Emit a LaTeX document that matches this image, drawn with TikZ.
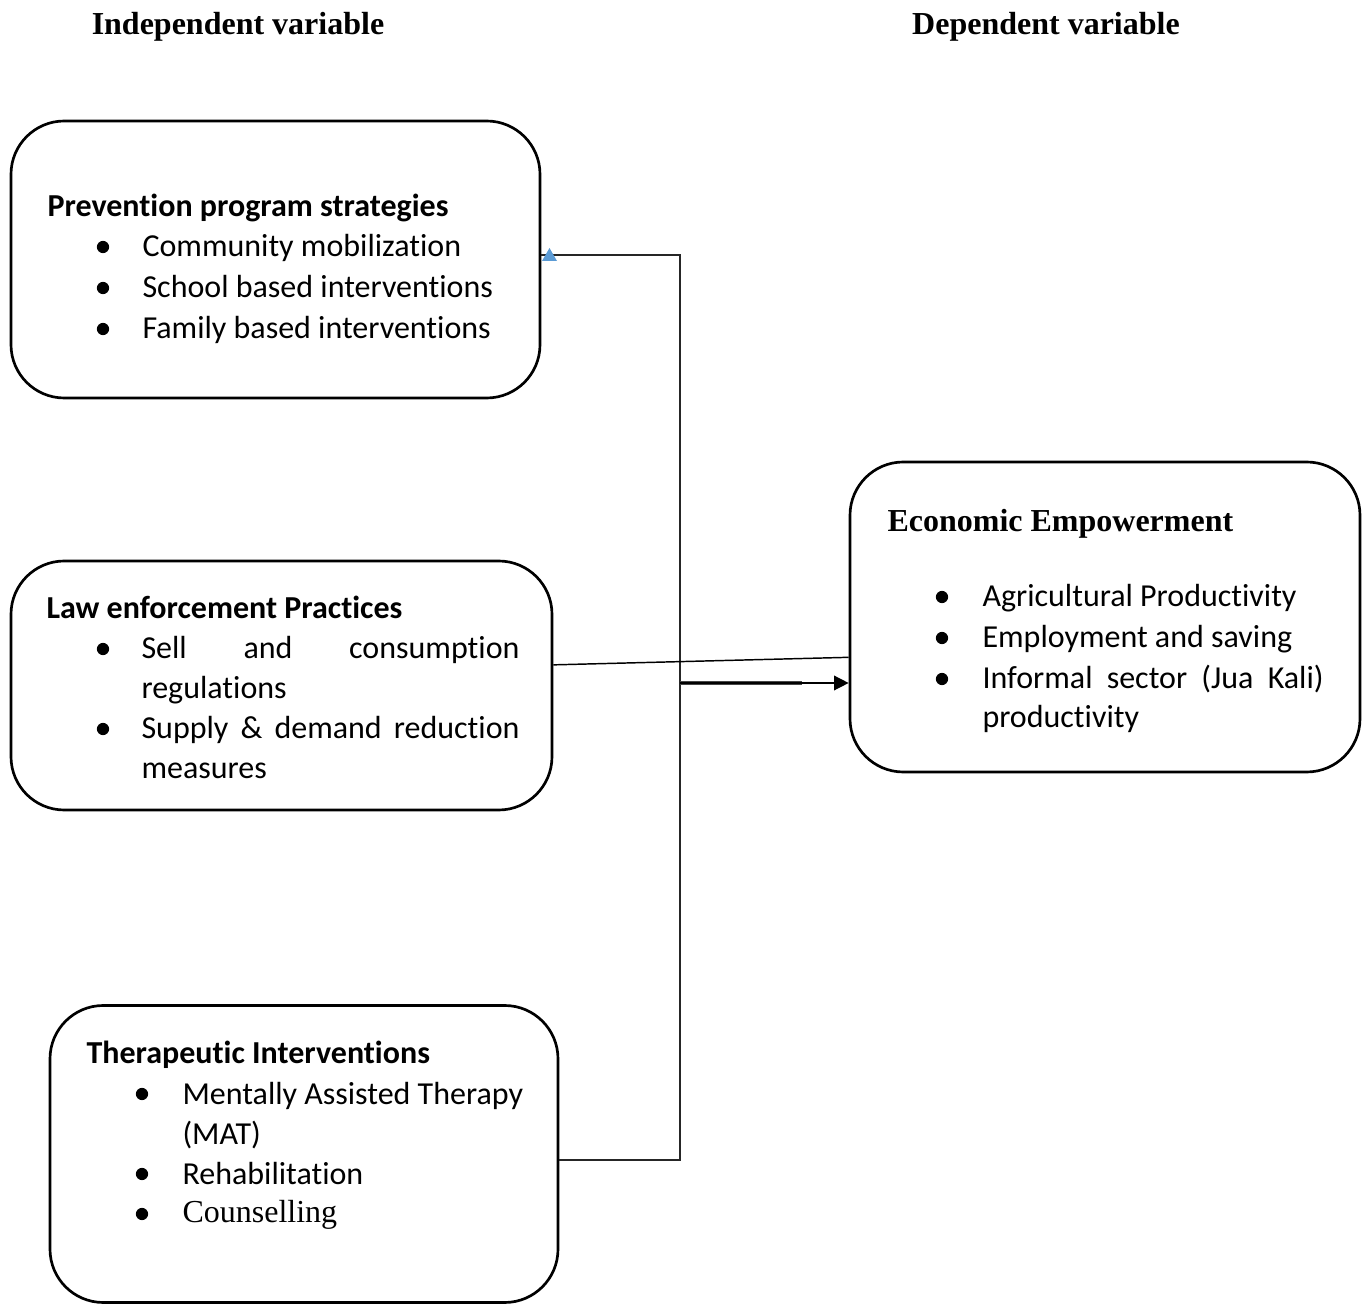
\documentclass[tikz,border=0pt]{standalone}
\usepackage{fontspec}
\setmainfont{Carlito}[Ligatures=NoCommon]
\newfontfamily\tnr{Liberation Serif}
\usetikzlibrary{arrows.meta,calc}
\def\PX{0.375pt}
\tikzset{
  box/.style={draw=black, line width=1pt, rounded corners=20pt, inner sep=0pt},
  txt/.style={inner sep=0pt, anchor=base west, font=\fontsize{12}{15}\selectfont},
  hdr/.style={inner sep=0pt, anchor=base west, font=\fontsize{12}{15}\selectfont\bfseries},
  ttl/.style={inner sep=0pt, anchor=base, font=\fontsize{12}{15}\selectfont\tnr\bfseries},
  conn/.style={draw=black!85, line width=0.55pt},
  bul/.style={fill=black},
}
\begin{document}
\begin{tikzpicture}[x=0.375pt,y=-0.375pt]
\useasboundingbox (0,0) rectangle (1369,1304);
% titles
\node[ttl] (tind) at (238,35) {Independent variable};
\node[ttl] (tdep) at (1046,35) {Dependent variable};
% boxes
\node[box, minimum width=529*\PX, minimum height=277*\PX] (b1) at (275.5,259.5) {};
\node[box, minimum width=541*\PX, minimum height=249*\PX] (b2) at (281.5,685.5) {};
\node[box, minimum width=508*\PX, minimum height=297*\PX] (b3) at (304,1154) {};
\node[box, minimum width=510*\PX, minimum height=310*\PX] (b4) at (1105,617) {};
% box 1
\node[hdr] (h1) at (47,217) {Prevention program strategies};
\node[txt] (p1) at (142,257) {Community mobilization};
\node[txt] (p2) at (142,298) {School based interventions};
\node[txt] (p3) at (142,339) {Family based interventions};
\foreach \yy in {257,298,339} \fill[bul] (103,\yy-10) circle[radius=2.3pt];
% box 2
\node[hdr] (h2) at (46,619) {Law enforcement Practices};
\node[txt] (l1) at (141,659) {\hbox to 141.75pt{Sell\hfill and\hfill consumption}};
\node[txt] (l2) at (141,699) {regulations};
\node[txt] (l3) at (141,739) {\hbox to 141.75pt{Supply\hfill \&\hfill demand\hfill reduction}};
\node[txt] (l4) at (141,779) {measures};
\foreach \yy in {659,739} \fill[bul] (103,\yy-10) circle[radius=2.3pt];
% box 4
\node[inner sep=0pt, anchor=base west, font=\fontsize{12}{15}\selectfont\tnr\bfseries] (h4) at (887,532) {Economic Empowerment};
\node[txt] (e1) at (982,607) {Agricultural Productivity};
\node[txt] (e2) at (982,648) {Employment and saving};
\node[txt] (e3) at (982,689) {\hbox to 127.9pt{Informal\hfill sector\hfill (Jua\hfill Kali)}};
\node[txt] (e4) at (982,728) {productivity};
\foreach \yy in {607,648,689} \fill[bul] (942,\yy-10) circle[radius=2.3pt];
% box 3
\node[hdr] (h3) at (86,1064) {Therapeutic Interventions};
\node[txt] (t1) at (182,1104) {Mentally Assisted Therapy};
\node[txt] (t2) at (182,1144) {(MAT)};
\node[txt] (t3) at (182,1184) {Rehabilitation};
\node[txt, font=\fontsize{12}{15}\selectfont\tnr] (t4) at (182,1223) {Counselling};
\foreach \yy in {1104,1184,1224} \fill[bul] (142,\yy-10) circle[radius=2.3pt];
% connectors
\coordinate (jtop) at (680,255);
\coordinate (jbot) at (680,1160);
\coordinate (jmid) at (680,683);
\draw[conn] (b3.east |- jbot) -- (jbot) -- (jtop) -- (b1.east |- jtop);
\fill[fill={rgb,255:red,91;green,155;blue,213}] (542,261) -- (557,261) -- (549.5,248) -- cycle;
\draw[line width=0.55pt, black]
  ($(b2.north east)!0.418!(b2.south east)$) -- ($(b4.north west)!0.629!(b4.south west)$);
\draw[line width=1.3pt, black!72] (jmid) -- (802,683);
\draw[line width=0.55pt, black, -{Triangle[length=5.5pt,width=5.5pt]}] (jmid) -- (b4.west |- jmid);
\end{tikzpicture}
\end{document}
